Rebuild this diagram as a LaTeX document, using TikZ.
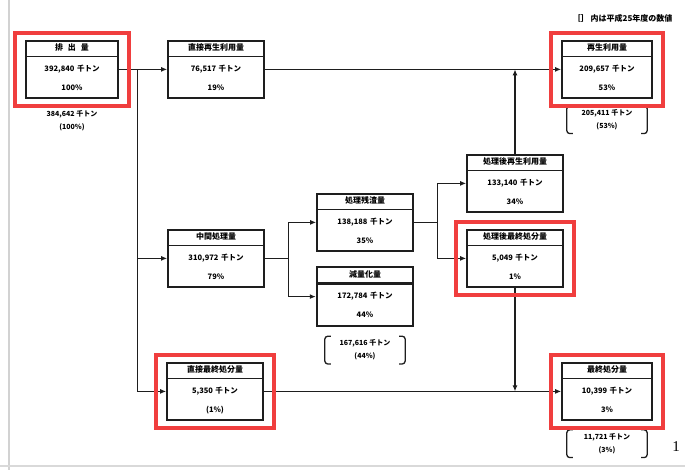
\documentclass[tikz,border=0pt]{standalone}
\usepackage{fontspec}
\setmainfont{Noto Sans CJK JP}
\newfontfamily\pagefont{Liberation Serif}
\usepackage{tikz}
\usetikzlibrary{arrows.meta,positioning,shapes.multipart,fit,calc}
\definecolor{BoxInk}{RGB}{30,30,30}
\definecolor{MarkRed}{RGB}{240,62,62}
\newcommand{\boxhead}[1]{{\fontsize{8}{9}\selectfont\rule[-5pt]{0pt}{14pt}#1}}
\newcommand{\boxbody}[2]{\rule{0pt}{14pt}#1\\[10pt]#2\rule[-7pt]{0pt}{7pt}}

\begin{document}
\begin{tikzpicture}[x=1pt, y=-1pt, every node/.style={font=\fontsize{7.5}{9}\selectfont\bfseries}, box/.style={rectangle split,rectangle split parts=2,draw=BoxInk,line width=1.6pt,text width=90pt,align=center,inner xsep=3pt,inner ysep=0pt,anchor=north}, note/.style={align=center,inner xsep=1pt,inner ysep=3.5pt,font=\fontsize{7}{13}\selectfont\bfseries}, arr/.style={-{Latex[length=6pt,width=5pt]},line width=1.3pt,BoxInk}, brk/.style={line width=1.3pt,BoxInk,rounded corners=3pt}, redmark/.style={draw=MarkRed,line width=3.5pt,inner xsep=10pt,inner ysep=7pt}]
\useasboundingbox (0,0) rectangle (685,470);
\draw[gray!35,line width=1.5pt] (9,0) -- (9,470);
\draw[gray!30,line width=1.5pt] (0,466) -- (685,466);
\node[anchor=east,font=\fontsize{8}{9}\selectfont\bfseries] (legend) at (676,18) {［］ 内は平成25年度の数値};
\node[box,text width=86pt] (emit) at (72,40) {\boxhead{排\ \ 出\ \ 量}\nodepart{two}\boxbody{392,840 千トン}{100\%}};
\node[box] (dreuse) at (216,40) {\boxhead{直接再生利用量}\nodepart{two}\boxbody{76,517 千トン}{19\%}};
\node[box,text width=84pt] (reuse) at (607,40) {\boxhead{再生利用量}\nodepart{two}\boxbody{209,657 千トン}{53\%}};
\node[box] (mid) at (216,229) {\boxhead{中間処理量}\nodepart{two}\boxbody{310,972 千トン}{79\%}};
\node[box] (resid) at (365,193) {\boxhead{処理残渣量}\nodepart{two}\boxbody{138,188 千トン}{35\%}};
\node[box,line width=2.4pt] (reduc) at (365,266) {\boxhead{減量化量}\nodepart{two}\boxbody{172,784 千トン}{44\%}};
\node[box] (preuse) at (515,154) {\boxhead{処理後再生利用量}\nodepart{two}\boxbody{133,140 千トン}{34\%}};
\node[box] (pfinal) at (515,229) {\boxhead{処理後最終処分量}\nodepart{two}\boxbody{5,049 千トン}{1\%}};
\node[box] (dfinal) at (215,362) {\boxhead{直接最終処分量}\nodepart{two}\boxbody{5,350 千トン}{(1\%)}};
\node[box,text width=84pt] (final) at (607,362) {\boxhead{最終処分量}\nodepart{two}\boxbody{10,399 千トン}{3\%}};
% previous-year figures
\node[note,below=8pt of emit] (emitprev) {384,642 千トン\\(100\%)};
\node[note,below=7pt of reuse,minimum width=80pt] (reuseprev) {205,411 千トン\\(53\%)};
\node[note,below=9pt of reduc,minimum width=80pt] (reducprev) {167,616 千トン\\(44\%)};
\node[note,below=9pt of final,minimum width=80pt] (finalprev) {11,721 千トン\\(3\%)};
\foreach \p in {reuseprev,reducprev,finalprev} {
  \draw[brk] ([xshift=6pt]\p.north west) -- (\p.north west) -- (\p.south west) -- ([xshift=6pt]\p.south west);
  \draw[brk] ([xshift=-6pt]\p.north east) -- (\p.north east) -- (\p.south east) -- ([xshift=-6pt]\p.south east);
}
% flows
\coordinate (split1) at ($(emit.east)+(19,0)$);
\coordinate (split2) at ($(mid.east)+(24,0)$);
\coordinate (split3) at ($(resid.east)+(24,0)$);
\draw[arr] (emit.east) -- (dreuse.west);
\draw[arr] (split1) |- (mid.west);
\draw[arr] (split1) |- (dfinal.west);
\draw[arr] (dreuse.east) -- (reuse.west);
\draw[arr] (mid.east) -- (split2) |- (resid.west);
\draw[arr] (split2) |- (reduc.west);
\draw[arr] (resid.east) -- (split3) |- (preuse.west);
\draw[arr] (split3) |- (pfinal.west);
\draw[arr] (preuse.north) -- (preuse.north |- reuse.west);
\draw[arr] (pfinal.south) -- (pfinal.south |- final.west);
\draw[arr] (dfinal.east) -- (final.west);
% red marks
\node[redmark,fit=(emit)] (emitmark) {};
\node[redmark,fit=(reuse)] (reusemark) {};
\node[redmark,fit=(pfinal)] (pfinalmark) {};
\node[redmark,fit=(dfinal)] (dfinalmark) {};
\node[redmark,fit=(final)] (finalmark) {};
\node[font=\pagefont\fontsize{15}{15}\selectfont] (pagenum) at (676,447) {1};
\end{tikzpicture}
\end{document}
